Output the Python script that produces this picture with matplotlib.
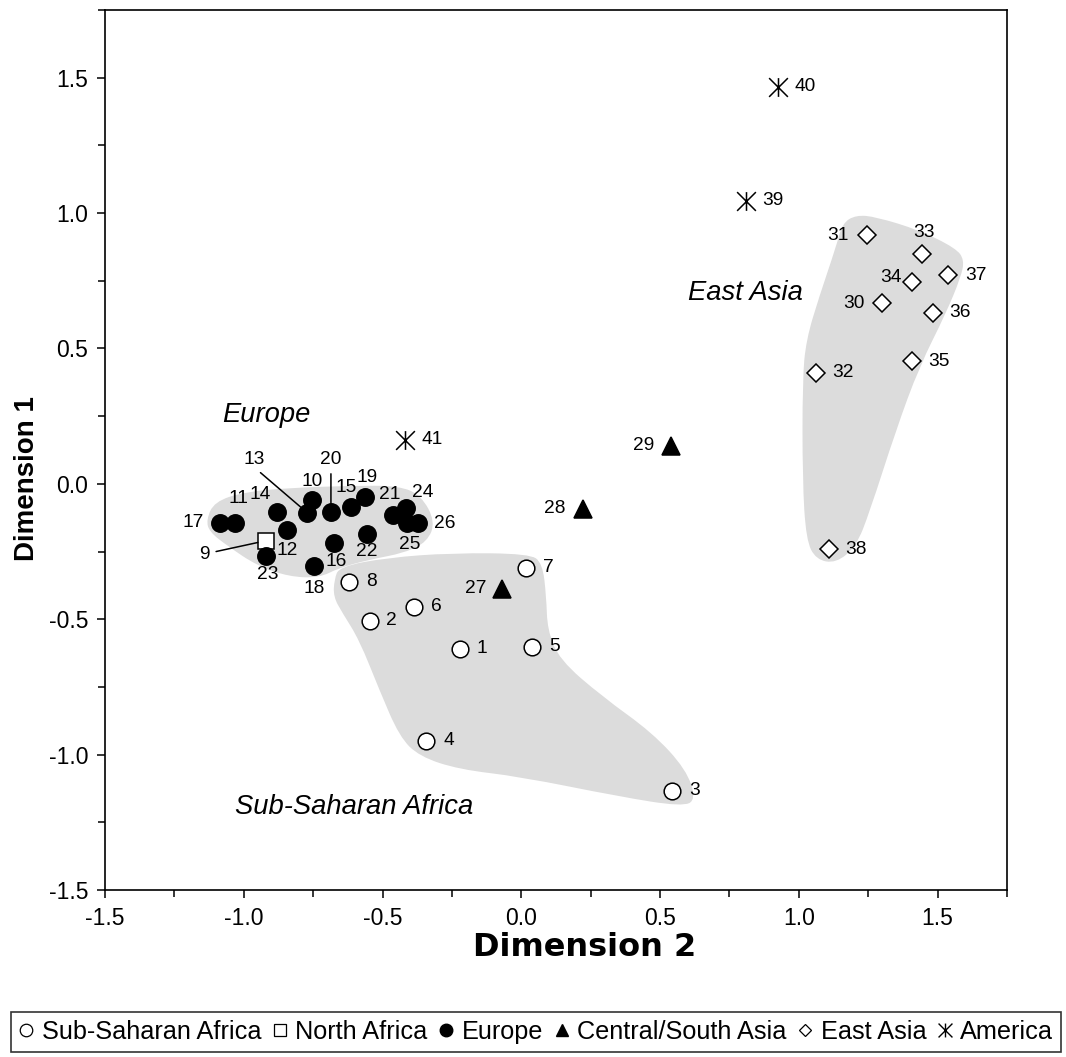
import matplotlib.pyplot as plt
from matplotlib.path import Path
from matplotlib.patches import PathPatch
from matplotlib.lines import Line2D

plt.rcParams['font.family'] = ['Liberation Sans', 'DejaVu Sans']
plt.rcParams['axes.unicode_minus'] = False

# ------------------------- data -------------------------
ssa_id = [1, 2, 3, 4, 5, 6, 7, 8]
ssa_x = [-0.220, -0.547, 0.544, -0.342, 0.040, -0.386, 0.018, -0.620]
ssa_y = [-0.609, -0.506, -1.133, -0.948, -0.601, -0.454, -0.310, -0.362]

naf_id = [9]
naf_x = [-0.920]
naf_y = [-0.210]

eur_id = [10, 11, 12, 13, 14, 15, 16, 17, 18, 19, 20, 21, 22, 23, 24, 25, 26]
eur_x = [-0.755, -1.030, -0.844, -0.772, -0.881, -0.614, -0.675, -1.085, -0.746,
         -0.562, -0.686, -0.464, -0.556, -0.920, -0.415, -0.413, -0.372]
eur_y = [-0.060, -0.143, -0.171, -0.106, -0.103, -0.085, -0.220, -0.143, -0.305,
         -0.049, -0.103, -0.114, -0.184, -0.266, -0.090, -0.145, -0.145]

csa_id = [27, 28, 29]
csa_x = [-0.068, 0.221, 0.539]
csa_y = [-0.387, -0.093, 0.138]

eas_id = [30, 31, 32, 33, 34, 35, 36, 37, 38]
eas_x = [1.300, 1.244, 1.062, 1.442, 1.409, 1.409, 1.482, 1.539, 1.110]
eas_y = [0.667, 0.919, 0.411, 0.848, 0.744, 0.452, 0.632, 0.771, -0.241]

amr_id = [39, 40, 41]
amr_x = [0.809, 0.926, -0.418]
amr_y = [1.045, 1.466, 0.162]

# shaded cluster outlines
eur_hull_x = [-1.135, -1.106, -0.998, -0.836, -0.620, -0.439, -0.360, -0.310, -0.339,
              -0.421, -0.548, -0.656, -0.728, -0.836, -0.951, -1.059, -1.124]
eur_hull_y = [-0.133, -0.066, -0.030, -0.015, -0.007, -0.007, -0.044, -0.140, -0.214,
              -0.255, -0.280, -0.310, -0.347, -0.343, -0.303, -0.229, -0.177]
afr_hull_x = [-0.674, -0.656, -0.486, -0.249, 0.029, 0.076, 0.090, 0.094, 0.137, 0.292,
              0.472, 0.594, 0.630, 0.580, 0.353, -0.007, -0.223, -0.367, -0.439, -0.512,
              -0.584, -0.645, -0.677]
afr_hull_y = [-0.354, -0.306, -0.273, -0.255, -0.258, -0.292, -0.417, -0.539, -0.649,
              -0.786, -0.919, -1.055, -1.166, -1.192, -1.155, -1.081, -1.055, -1.007,
              -0.934, -0.760, -0.576, -0.476, -0.417]
eas_hull_x = [1.206, 1.278, 1.434, 1.566, 1.596, 1.584, 1.530, 1.434, 1.350, 1.254,
              1.206, 1.134, 1.062, 1.026, 1.013, 1.013, 1.026, 1.073, 1.134, 1.157]
eas_hull_y = [0.993, 0.986, 0.937, 0.870, 0.827, 0.765, 0.630, 0.433, 0.199, -0.107,
              -0.231, -0.293, -0.280, -0.207, 0.015, 0.384, 0.531, 0.691, 0.876, 0.963]

# label offsets in pixels (right, down) from the marker
label_off = {1: (22, 0), 2: (22, 0), 3: (22, 0), 4: (22, 0), 5: (22, 0), 6: (22, 0),
             7: (22, 0), 8: (22, 0),
             9: (-62, 14), 10: (0, -19), 11: (3, -24), 12: (0, 20), 13: (-53, -53),
             14: (-17, -17), 15: (-5, -19), 16: (2, 18), 17: (-27, 0), 18: (0, 22),
             19: (2, -20), 20: (0, -52), 21: (-3, -20), 22: (0, 18), 23: (2, 19),
             24: (17, -16), 25: (3, 21), 26: (27, 0),
             27: (-27, 0), 28: (-28, -1), 29: (-27, -1),
             30: (-28, 0), 31: (-29, 0), 32: (27, 0), 33: (2, -22), 34: (-21, -5),
             35: (27, 0), 36: (27, 0), 37: (27, 0), 38: (27, 0),
             39: (27, 0), 40: (27, 0), 41: (27, 0)}
leaders = {9: ((1, 0.6), 3), 13: ((0.55, 0), 2), 20: ((0.5, 0), 2)}


def blob(xs, ys):
    # closed smooth outline: corners as quadratic control points
    n = len(xs)
    pts = list(zip(xs, ys))
    mids = [((pts[i][0] + pts[(i + 1) % n][0]) / 2, (pts[i][1] + pts[(i + 1) % n][1]) / 2)
            for i in range(n)]
    verts = [mids[-1]]
    codes = [Path.MOVETO]
    for i in range(n):
        verts += [pts[i], mids[i]]
        codes += [Path.CURVE3, Path.CURVE3]
    return Path(verts, codes)


star = Path([(-1, -1), (1, 1), (-1, 1), (1, -1), (0, -1), (0, 1)],
            [Path.MOVETO, Path.LINETO] * 3)

fig = plt.figure(figsize=(10.66, 10.57), dpi=100)
ax = fig.add_axes([0.0985, 0.158, 0.8462, 0.8325])

for hx, hy in [(eur_hull_x, eur_hull_y), (afr_hull_x, afr_hull_y), (eas_hull_x, eas_hull_y)]:
    ax.add_patch(PathPatch(blob(hx, hy), facecolor='#dcdcdc', edgecolor='none', zorder=0))

groups = [
    (ssa_id, ssa_x, ssa_y, dict(marker='o', ms=12, mfc='white')),
    (naf_id, naf_x, naf_y, dict(marker='s', ms=11.5, mfc='white')),
    (eur_id, eur_x, eur_y, dict(marker='o', ms=12.5, mfc='black')),
    (csa_id, csa_x, csa_y, dict(marker='^', ms=13, mfc='black')),
    (eas_id, eas_x, eas_y, dict(marker='D', ms=8.8, mfc='white')),
    (amr_id, amr_x, amr_y, dict(marker=star, ms=13.5, mfc='none')),
]
for ids, xs, ys, st in groups:
    ax.plot(xs, ys, ls='none', mec='black', mew=1.1, zorder=3, **st)
    for i, x, y in zip(ids, xs, ys):
        dx, dy = label_off[i]
        kw = {}
        if i in leaders:
            rel, sa = leaders[i]
            kw['arrowprops'] = dict(arrowstyle='-', color='black', lw=1.1,
                                    relpos=rel, shrinkA=sa, shrinkB=6)
        ax.annotate(str(i), (x, y), xytext=(dx, -dy), textcoords='offset pixels',
                    ha='center', va='center', fontsize=13.8, zorder=4, **kw)

ax.text(-0.919, 0.255, 'Europe', fontsize=19.7, style='italic', ha='center', va='center')
ax.text(0.807, 0.705, 'East Asia', fontsize=19.7, style='italic', ha='center', va='center')
ax.text(-0.602, -1.192, 'Sub-Saharan Africa', fontsize=19.7, style='italic',
        ha='center', va='center')

ax.set_xlim(-1.5, 1.75)
ax.set_ylim(-1.5, 1.75)
ax.set_xticks([-1.5, -1.0, -0.5, 0.0, 0.5, 1.0, 1.5])
ax.set_yticks([-1.5, -1.0, -0.5, 0.0, 0.5, 1.0, 1.5])
ax.set_xticks([-1.25, -0.75, -0.25, 0.25, 0.75, 1.25, 1.75], minor=True)
ax.set_yticks([-1.25, -0.75, -0.25, 0.25, 0.75, 1.25, 1.75], minor=True)
ax.set_xticklabels(['-1.5', '-1.0', '-0.5', '0.0', '0.5', '1.0', '1.5'])
ax.set_yticklabels(['-1.5', '-1.0', '-0.5', '0.0', '0.5', '1.0', '1.5'])
ax.tick_params(which='both', direction='out', width=1.1, labelsize=16.5, pad=6)
ax.tick_params(which='major', length=6)
ax.tick_params(which='minor', length=5)
for sp in ax.spines.values():
    sp.set_linewidth(1.2)

ax.set_xlabel('Dimension 2', fontsize=23, fontweight='bold', family='DejaVu Sans')
ax.set_ylabel('Dimension 1', fontsize=20, fontweight='bold')
ax.xaxis.set_label_coords(0.532, -0.048)
ax.yaxis.set_label_coords(-0.072, 0.468)

handles = [
    Line2D([], [], ls='none', marker='o', ms=9, mfc='white', mec='black', mew=0.9),
    Line2D([], [], ls='none', marker='s', ms=9, mfc='white', mec='black', mew=0.9),
    Line2D([], [], ls='none', marker='o', ms=9, mfc='black', mec='black'),
    Line2D([], [], ls='none', marker='^', ms=9, mfc='black', mec='black'),
    Line2D([], [], ls='none', marker='D', ms=6.5, mfc='white', mec='black', mew=0.9),
    Line2D([], [], ls='none', marker=star, ms=10, mfc='none', mec='black', mew=1.0),
]
names = ['Sub-Saharan Africa', 'North Africa', 'Europe', 'Central/South Asia',
         'East Asia', 'America']
leg = fig.legend(handles, names, loc='center', bbox_to_anchor=(536 / 1066, 1 - 1032 / 1057),
                 ncol=6, fontsize=18.2, frameon=True, fancybox=False, edgecolor='black',
                 handlelength=0.6, handletextpad=0.3, columnspacing=0.45, borderpad=0.3,
                 borderaxespad=0)
leg.get_frame().set_linewidth(1.2)

plt.savefig('out.png', dpi=100)
